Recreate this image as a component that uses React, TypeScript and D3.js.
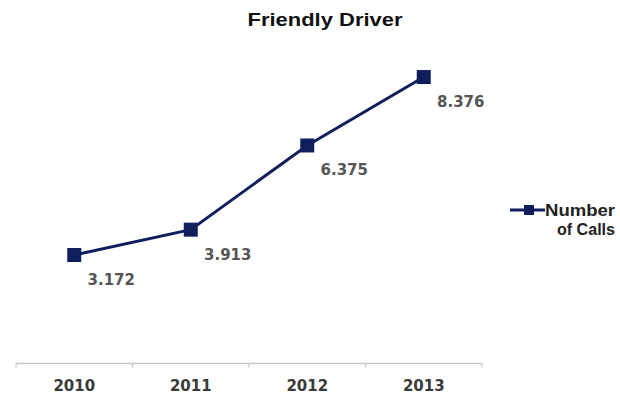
import React from "react";
import * as d3 from "d3";

const categories = ["2010", "2011", "2012", "2013"];
const values = [3.172, 3.913, 6.375, 8.376];
const labels = ["3.172", "3.913", "6.375", "8.376"];
const seriesName = ["Number", "of Calls"];
const title = "Friendly Driver";

export default function App() {
  const W = 620, H = 396;
  const x = d3.scaleBand<string>().domain(categories).range([16, 482]).padding(0);
  const y = d3.scaleLinear().domain([0, 9]).range([363.5, 55.7]);
  const line = d3
    .line<number>()
    .x((_, i) => (x(categories[i]) as number) + x.bandwidth() / 2)
    .y((d) => y(d));
  const color = "#0f1f5e";
  const tickXs = [...categories.map((c) => x(c) as number), x.range()[1]];
  return (
    <svg width={W} height={H} style={{ position: "absolute", left: 0, top: 0, background: "#fff" }}>
      <text x={325} y={26} textAnchor="middle" fontFamily="Liberation Sans, Arial" fontWeight="bold" fontSize={18} fill="#111" textLength={155} lengthAdjust="spacingAndGlyphs">
        {title}
      </text>
      <line x1={x.range()[0]} x2={x.range()[1]} y1={y(0)} y2={y(0)} stroke="#c8c8c8" strokeWidth={1.5} />
      {tickXs.map((t, i) => (
        <line key={i} x1={t} x2={t} y1={y(0)} y2={y(0) + 4} stroke="#c8c8c8" strokeWidth={1.2} />
      ))}
      {categories.map((c) => (
        <text key={c} x={(x(c) as number) + x.bandwidth() / 2} y={391} textAnchor="middle" fontFamily="DejaVu Sans, Verdana" fontWeight="bold" fontSize={15} fill="#3a3a3a">
          {c}
        </text>
      ))}
      <path d={line(values) || ""} fill="none" stroke={color} strokeWidth={3} />
      {values.map((v, i) => {
        const cx = (x(categories[i]) as number) + x.bandwidth() / 2;
        const cy = y(v);
        return (
          <g key={i}>
            <rect x={cx - 7} y={cy - 7} width={14} height={14} fill={color} />
            <text x={cx + 37} y={cy + 30} textAnchor="middle" fontFamily="DejaVu Sans, Verdana" fontWeight="bold" fontSize={15} fill="#555">
              {labels[i]}
            </text>
          </g>
        );
      })}
      <line x1={510} x2={545} y1={210} y2={210} stroke={color} strokeWidth={3} />
      <rect x={524} y={205} width={10} height={10} fill={color} />
      <text fontFamily="Liberation Sans, Arial" fontWeight="bold" fontSize={16} fill="#222">
        <tspan x={545} y={216} textLength={70} lengthAdjust="spacingAndGlyphs">{seriesName[0]}</tspan>
        <tspan x={557} y={235} textLength={58} lengthAdjust="spacingAndGlyphs">{seriesName[1]}</tspan>
      </text>
    </svg>
  );
}
